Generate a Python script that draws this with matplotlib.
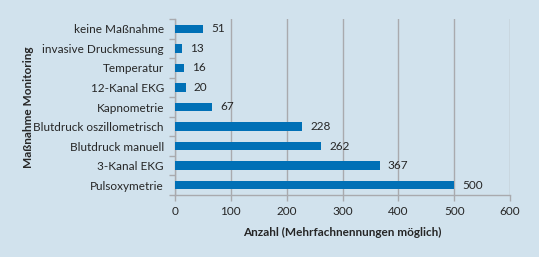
import matplotlib.pyplot as plt

categories = ["Pulsoxymetrie", "3-Kanal EKG", "Blutdruck manuell", "Blutdruck oszillometrisch",
              "Kapnometrie", "12-Kanal EKG", "Temperatur", "invasive Druckmessung", "keine Maßnahme"]
values = [500, 367, 262, 228, 67, 20, 16, 13, 51]

bg = "#d1e2ed"
bar_color = "#0070b6"
grid_color = "#a9aaae"
text_color = "#262626"
fs = 8.5

plt.rcParams['font.family'] = ['Lato', 'DejaVu Sans']

fig = plt.figure(figsize=(5.39, 2.57), dpi=100, facecolor=bg)
ax = fig.add_axes([175 / 539, 1 - 195 / 257, 335 / 539, 176 / 257], facecolor=bg)

y = list(range(len(categories)))
ax.barh(y, values, height=0.43, color=bar_color, zorder=3)
for yi, v in zip(y, values):
    ax.text(v + 14, yi, str(v), va="center", ha="left", fontsize=fs, color=text_color, zorder=4)

ax.set_xlim(0, 600)
ax.set_ylim(-0.5, len(categories) - 0.5)
ax.set_xticks(range(0, 601, 100))
ax.set_yticks(y)
ax.set_yticklabels(categories)
ax.set_yticks([i - 0.5 for i in range(len(categories) + 1)], minor=True)
ax.tick_params(axis="y", which="major", length=0, pad=8, labelsize=fs, labelcolor=text_color)
ax.tick_params(axis="y", which="minor", length=4, color=grid_color, width=1)
ax.tick_params(axis="x", length=4, color=grid_color, width=1, labelsize=fs, labelcolor=text_color, pad=4)

ax.grid(axis="x", color=grid_color, linewidth=1, zorder=0)
for s in ["top", "right"]:
    ax.spines[s].set_visible(False)
for s in ["left", "bottom"]:
    ax.spines[s].set_color(grid_color)
    ax.spines[s].set_linewidth(1)

ax.set_xlabel("Anzahl (Mehrfachnennungen möglich)", fontsize=fs, fontweight="bold",
              color=text_color, labelpad=7)
ax.set_ylabel("Maßnahme Monitoring", fontsize=fs, fontweight="bold", color=text_color)
ax.yaxis.set_label_coords(-0.42, 0.5)

fig.savefig("out.png", dpi=100, facecolor=bg)
